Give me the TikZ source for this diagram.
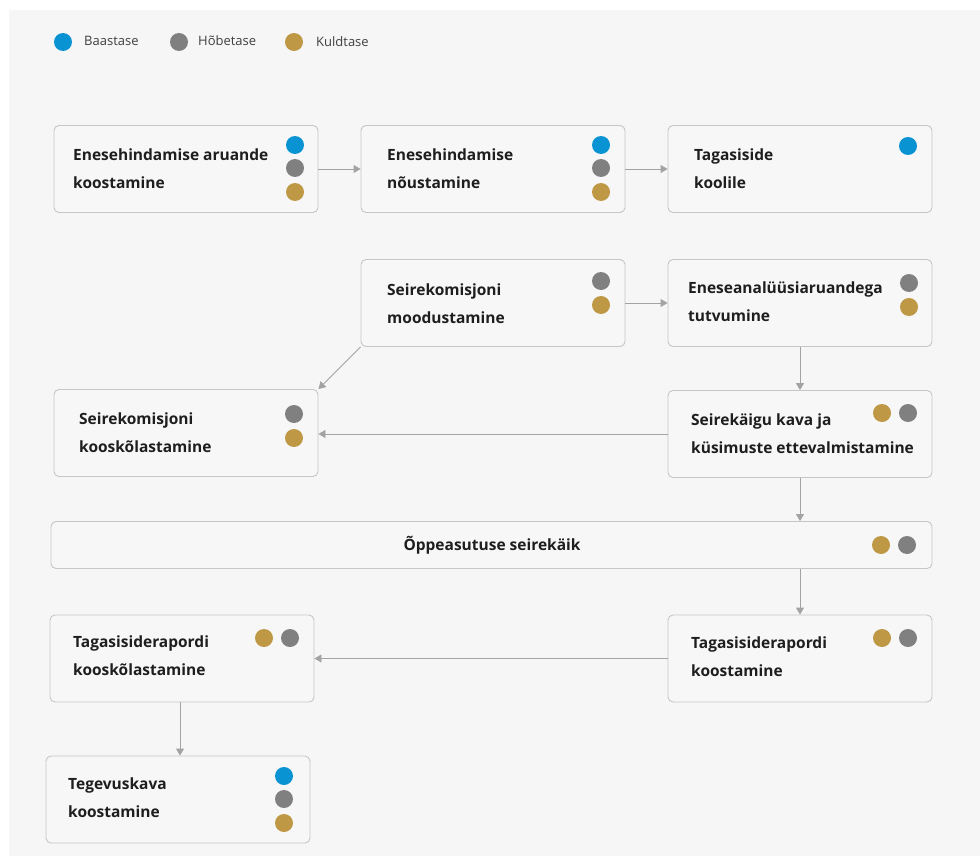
\documentclass[tikz,border=0pt]{standalone}
\usepackage{fontspec}
\setmainfont{Open Sans}
\usetikzlibrary{arrows.meta,calc}
\definecolor{bgc}{HTML}{F6F6F6}
\definecolor{boxfill}{HTML}{F7F7F7}
\definecolor{boxline}{HTML}{C6C6C6}
\definecolor{arr}{HTML}{A3A3A3}
\definecolor{dblue}{HTML}{0A93D3}
\definecolor{dgrey}{HTML}{808080}
\definecolor{dgold}{HTML}{BF9845}
\definecolor{txt}{HTML}{1E1E1E}
\tikzset{
  box/.style={draw=boxline, fill=boxfill, line width=0.9pt, rounded corners=5pt, minimum width=264pt, minimum height=87pt, inner sep=0pt},
  lbl/.style={anchor=west, align=left, inner sep=0pt, text=txt, font=\fontsize{15.5}{28}\selectfont\bfseries},
  dot/.style={circle, inner sep=0pt, minimum size=18pt},
  leg/.style={anchor=west, inner sep=0pt, text=txt!85, font=\fontsize{13}{14}\selectfont},
  conn/.style={draw=arr, line width=0.9pt, -{Triangle[length=7pt,width=8pt]}}
}
\begin{document}
\begin{tikzpicture}[x=1pt,y=-1pt]
\useasboundingbox (0,0) rectangle (980,856);
\fill[white] (0,0) rectangle (980,856);
\fill[bgc] (9,10) rectangle (980,856);
% legend
\node[dot, fill=dblue] (l1) at (63,42) {};
\node[leg] (l1t) at (84,41) {Baastase};
\node[dot, fill=dgrey] (l2) at (179,42) {};
\node[leg] (l2t) at (198,41) {Hõbetase};
\node[dot, fill=dgold] (l3) at (294,42) {};
\node[leg] (l3t) at (316,42) {Kuldtase};
% boxes
\node[box] (b1) at (186,169) {};
\node[box] (b2) at (493,169) {};
\node[box] (b3) at (800,169) {};
\node[box] (b4) at (493,303) {};
\node[box] (b5) at (800,303) {};
\node[box] (b6) at (186,433) {};
\node[box] (b7) at (800,434) {};
\node[box, minimum width=881pt, minimum height=47pt] (b8) at (491.5,545) {};
\node[box] (b9) at (800,658.5) {};
\node[box] (b10) at (182,658.5) {};
\node[box] (b11) at (178,799.5) {};
% texts
\node[lbl] (t1) at (73,169) {Enesehindamise aruande\\koostamine};
\node[lbl] (t2) at (387,169) {Enesehindamise\\nõustamine};
\node[lbl] (t3) at (694,169) {Tagasiside\\koolile};
\node[lbl] (t4) at (387,304) {Seirekomisjoni\\moodustamine};
\node[lbl] (t5) at (688,302) {Eneseanalüüsiaruandega\\tutvumine};
\node[lbl] (t6) at (79,433) {Seirekomisjoni\\kooskõlastamine};
\node[lbl] (t7) at (691,434) {Seirekäigu kava ja\\küsimuste ettevalmistamine};
\node[lbl, anchor=center] (t8) at (492,545) {Õppeasutuse seirekäik};
\node[lbl] (t9) at (691,657) {Tagasisiderapordi\\koostamine};
\node[lbl] (t10) at (73,656) {Tagasisiderapordi\\kooskõlastamine};
\node[lbl] (t11) at (68,798) {Tegevuskava\\koostamine};
% dots
\node[dot, fill=dblue] (d1a) at (295,145) {};
\node[dot, fill=dgrey] (d1b) at (295,168) {};
\node[dot, fill=dgold] (d1c) at (295,192) {};
\node[dot, fill=dblue] (d2a) at (601,145) {};
\node[dot, fill=dgrey] (d2b) at (601,168) {};
\node[dot, fill=dgold] (d2c) at (601,192) {};
\node[dot, fill=dblue] (d3a) at (908,146) {};
\node[dot, fill=dgrey] (d4a) at (601,281) {};
\node[dot, fill=dgold] (d4b) at (601,305) {};
\node[dot, fill=dgrey] (d5a) at (909,283) {};
\node[dot, fill=dgold] (d5b) at (909,307) {};
\node[dot, fill=dgrey] (d6a) at (294,414) {};
\node[dot, fill=dgold] (d6b) at (294,438) {};
\node[dot, fill=dgold] (d7a) at (882,413) {};
\node[dot, fill=dgrey] (d7b) at (908,413) {};
\node[dot, fill=dgold] (d8a) at (881,545) {};
\node[dot, fill=dgrey] (d8b) at (907,545) {};
\node[dot, fill=dgold] (d9a) at (882,638) {};
\node[dot, fill=dgrey] (d9b) at (908,638) {};
\node[dot, fill=dgold] (d10a) at (264,638) {};
\node[dot, fill=dgrey] (d10b) at (290,638) {};
\node[dot, fill=dblue] (d11a) at (284,776) {};
\node[dot, fill=dgrey] (d11b) at (284,799) {};
\node[dot, fill=dgold] (d11c) at (284,823) {};
% connectors
\draw[conn] (b1.east) -- (b2.west);
\draw[conn] (b2.east) -- (b3.west);
\draw[conn] (b4.east) -- (b5.west);
\draw[conn] (b4.south west) -- (b6.north east);
\draw[conn] (b5.south) -- (b7.north);
\draw[conn] (b7.west) -- (b7.west -| b6.east);
\draw[conn] (b7.south) -- (b7.south |- b8.north);
\draw[conn] (b8.south -| b9.north) -- (b9.north);
\draw[conn] (b9.west) -- (b10.east);
\draw[conn] ($(b10.south)+(-2,0)$) -- ($(b10.south |- b11.north)+(-2,0)$);
\end{tikzpicture}
\end{document}
